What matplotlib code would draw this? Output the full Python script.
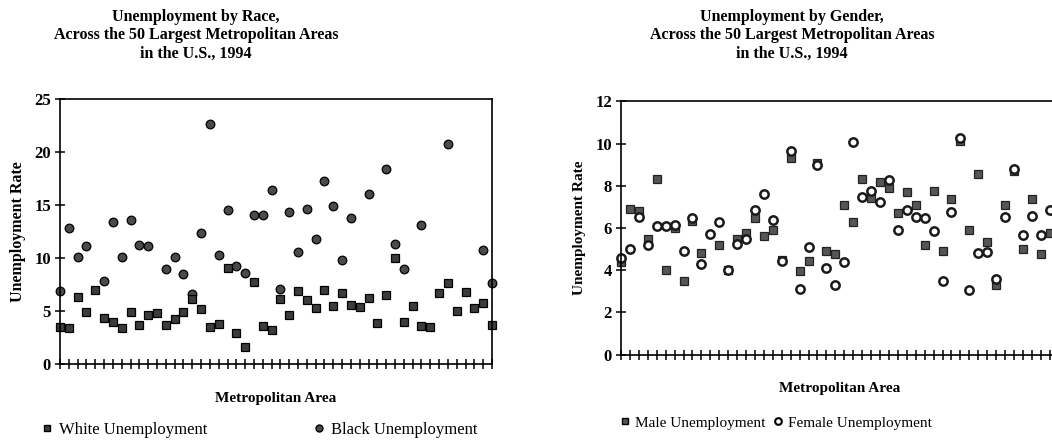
import numpy as np
import matplotlib.pyplot as plt
from matplotlib.lines import Line2D

nan = np.nan
metro_area = np.arange(1, 51)

# one value per metropolitan area (nan = no mark visible)
white_unemp = [3.5, 3.4, 6.3, 4.9, 7.0, 4.35, 4.0, 3.35, 4.9, 3.7,
               4.6, 4.8, 3.65, 4.2, 4.9, 6.1, 5.15, 3.5, 3.8, 9.1,
               2.9, 1.6, 7.7, 3.55, 3.25, 6.1, 4.65, 6.9, 6.0, 5.3,
               6.95, 5.5, 6.7, 5.55, 5.4, 6.2, 3.9, 6.5, 10.0, 4.0,
               5.45, 3.6, 3.5, 6.7, 7.6, 5.0, 6.75, 5.3, 5.8, 3.7]
black_unemp = [6.9, 12.8, 10.1, 11.1, nan, 7.8, 13.4, 10.1, 13.6, 11.2,
               11.1, nan, 9.0, 10.1, 8.5, 6.6, 12.4, 22.65, 10.3, 14.5,
               9.2, 8.6, 14.1, 14.1, 16.4, 7.1, 14.3, 10.6, 14.6, 11.8,
               17.3, 14.9, 9.8, 13.75, nan, 16.0, nan, 18.4, 11.3, 9.0,
               nan, 13.1, nan, nan, 20.8, nan, nan, nan, 10.8, 7.6]

male_unemp = [4.4, 6.9, 6.8, 5.5, 8.3, 4.0, 6.0, 3.5, 6.35, 4.8,
              nan, 5.2, 4.0, 5.5, 5.75, 6.45, 5.6, 5.9, 4.5, 9.3,
              3.95, 4.45, 9.1, 4.9, 4.75, 7.1, 6.3, 8.3, 7.4, 8.2,
              7.9, 6.7, 7.7, 7.1, 5.2, 7.75, 4.9, 7.35, 10.1, 5.9,
              8.55, 5.35, 3.3, 7.1, 8.7, 5.0, 7.35, 4.75, 5.75, nan]
female_unemp = [4.6, 5.0, 6.5, 5.2, 6.1, 6.1, 6.15, 4.9, 6.45, 4.3,
                5.7, 6.3, 4.0, 5.25, 5.5, 6.85, 7.6, 6.4, 4.45, 9.65,
                3.1, 5.1, 9.0, 4.1, 3.3, 4.4, 10.05, 7.45, 7.75, 7.25,
                8.25, 5.9, 6.85, 6.5, 6.45, 5.85, 3.5, 6.75, 10.25, 3.05,
                4.8, 4.85, 3.6, 6.5, 8.8, 5.65, 6.55, 5.65, 6.85, nan]

plt.rcParams['font.family'] = ['Liberation Serif', 'DejaVu Serif']

W, H = 1052, 440
fig = plt.figure(figsize=(W / 100, H / 100), dpi=100)


def px_axes(x0, x1, ytop, ybot):
    return fig.add_axes([x0 / W, 1 - ybot / H, (x1 - x0) / W, (ybot - ytop) / H])


def style_axes(ax, ymax, ystep, ylab_size, ylab_pad):
    ax.set_xlim(1, 50)
    ax.set_ylim(0, ymax)
    ax.set_xticks(metro_area)
    ax.set_xticklabels([])
    ax.set_yticks(np.arange(0, ymax + 0.1, ystep))
    ax.tick_params(axis='x', direction='inout', length=7, width=1.1, color='black')
    ax.tick_params(axis='y', direction='inout', length=7, width=1.1, pad=3,
                   labelsize=12)
    for lab in ax.get_yticklabels():
        lab.set_fontweight('bold')
    for sp in ax.spines.values():
        sp.set_linewidth(1.2)
    ax.set_ylabel('Unemployment Rate', fontsize=ylab_size, fontweight='bold',
                  labelpad=ylab_pad)
    ax.set_xlabel('Metropolitan Area', fontsize=11, fontweight='bold', labelpad=13)


# left chart: race
ax1 = px_axes(60, 492, 99, 364)
ax1.plot(metro_area, black_unemp, 'o', ms=6.2, mfc='#4a4a4a', mec='black', mew=0.9,
         clip_on=False)
ax1.plot(metro_area, white_unemp, 's', ms=5.6, mfc='#3c3c3c', mec='black', mew=0.9,
         clip_on=False)
style_axes(ax1, 25, 5, 11.5, 6)

# right chart: gender (the scan cuts it off at the right edge)
ax2 = px_axes(621, 1058.6, 101.3, 354.7)
ax2.plot(metro_area, male_unemp, 's', ms=5.8, mfc='#555555', mec='#222222', mew=0.9,
         clip_on=False)
ax2.plot(metro_area, female_unemp, 'o', ms=6.0, mfc='white', mec='#1a1a1a', mew=1.8,
         clip_on=False)
style_axes(ax2, 12, 2, 11, 7)

title_fmt = 'Unemployment by {},\nAcross the 50 Largest Metropolitan Areas\nin the U.S., 1994'
fig.text(196 / W, 1 - 9 / H, title_fmt.format('Race'), ha='center', va='top',
         fontsize=11.5, fontweight='bold', linespacing=1.2)
fig.text(792 / W, 1 - 9 / H, title_fmt.format('Gender'), ha='center', va='top',
         fontsize=11.5, fontweight='bold', linespacing=1.2)


def legend_item(x, y, marker, text, size, **kw):
    h = Line2D([], [], ls='none', marker=marker, **kw)
    fig.legend([h], [text], loc='center left', bbox_to_anchor=(x / W, 1 - y / H),
               frameon=False, fontsize=size, handlelength=0.6, handletextpad=0.4,
               borderpad=0, borderaxespad=0)


legend_item(42, 430, 's', 'White Unemployment', 12, ms=5, mfc='#3c3c3c', mec='black')
legend_item(314, 430, 'o', 'Black Unemployment', 12, ms=5, mfc='#4a4a4a', mec='black')
legend_item(620, 423, 's', 'Male Unemployment', 11, ms=4.8, mfc='#555555', mec='black')
legend_item(773, 423, 'o', 'Female Unemployment', 11, ms=4.8, mfc='white', mec='black',
            mew=1.5)

fig.savefig('out.png', dpi=100)
